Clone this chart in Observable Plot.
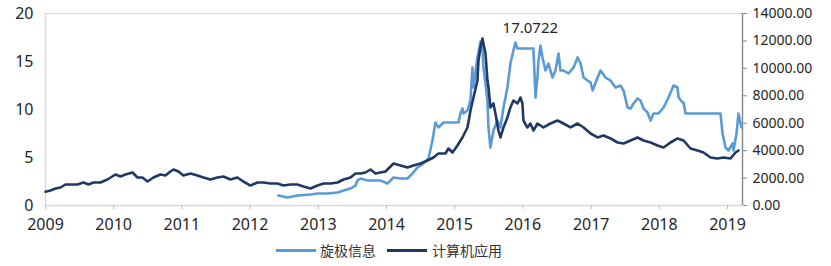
<!DOCTYPE html>
<html><head><meta charset="utf-8">
<script src="https://cdn.jsdelivr.net/npm/d3@7"></script>
<script src="https://cdn.jsdelivr.net/npm/@observablehq/plot@0.6"></script>
<style>
body{margin:0;background:#fff;font-family:"Noto Sans","Noto Sans CJK SC",sans-serif;}
#wrap{position:relative;width:831px;height:266px;}
#chart{position:absolute;top:0;left:0;}
#legend{position:absolute;top:240px;left:0;height:20px;line-height:20px;font-size:14px;color:#333;font-family:"Noto Sans CJK SC","Noto Sans",sans-serif;}
.item{position:absolute;top:0;white-space:nowrap;}
.sw{position:absolute;top:9px;height:3px;}
</style></head><body>
<div id="wrap"><div id="chart"></div><div id="legend"></div></div>
<script>
// 旋极信息 (left axis)
const xjYears = [2012.416,2012.548,2012.695,2012.886,2012.988,2013.135,2013.282,2013.370,2013.472,2013.545,2013.575,2013.619,2013.721,2013.868,2013.912,2014.015,2014.103,2014.205,2014.308,2014.381,2014.455,2014.543,2014.616,2014.674,2014.718,2014.762,2014.836,2014.982,2015.056,2015.085,2015.114,2015.129,2015.188,2015.232,2015.261,2015.276,2015.334,2015.378,2015.408,2015.422,2015.452,2015.481,2015.496,2015.525,2015.569,2015.628,2015.672,2015.716,2015.774,2015.818,2015.862,2015.892,2015.921,2016.155,2016.185,2016.214,2016.229,2016.258,2016.287,2016.331,2016.375,2016.434,2016.478,2016.522,2016.551,2016.595,2016.669,2016.742,2016.801,2016.845,2016.889,2016.947,2016.991,2017.021,2017.094,2017.138,2017.211,2017.284,2017.358,2017.431,2017.475,2017.534,2017.578,2017.622,2017.680,2017.724,2017.768,2017.827,2017.871,2017.915,2017.988,2018.062,2018.135,2018.208,2018.267,2018.282,2018.340,2018.355,2018.384,2018.897,2018.927,2018.971,2019.015,2019.073,2019.088,2019.132,2019.161,2019.205];
const xjValues = [1.04,0.83,1.04,1.15,1.25,1.25,1.35,1.56,1.77,2.08,2.60,2.81,2.60,2.60,2.60,2.29,2.92,2.81,2.81,3.33,3.96,4.38,4.90,6.77,8.65,8.13,8.65,8.65,8.65,9.58,10.10,9.58,9.90,10.94,14.38,12.29,15.42,17.07,16.15,14.38,12.71,10.94,8.13,6.04,7.81,8.85,8.13,10.21,12.29,14.79,16.15,16.98,16.35,16.35,11.25,13.33,15.10,16.67,15.42,14.06,14.79,13.33,14.06,15.83,14.06,14.06,13.75,14.38,15.42,14.79,13.33,13.02,12.81,11.98,13.33,14.06,13.33,13.02,12.29,12.50,11.98,10.21,10.10,10.63,11.15,10.94,10.10,9.69,8.85,9.58,9.58,10.21,11.25,12.50,12.29,11.25,10.73,10.73,9.58,9.58,7.50,6.04,5.73,6.46,5.73,7.50,9.58,8.13];
// 计算机应用 (right axis)
const jsjYears = [2009.000,2009.073,2009.147,2009.220,2009.293,2009.367,2009.469,2009.557,2009.630,2009.704,2009.806,2009.909,2010.026,2010.100,2010.173,2010.276,2010.349,2010.422,2010.496,2010.584,2010.686,2010.760,2010.833,2010.877,2010.950,2011.023,2011.126,2011.229,2011.317,2011.419,2011.522,2011.610,2011.713,2011.815,2011.903,2012.006,2012.109,2012.196,2012.299,2012.402,2012.490,2012.592,2012.695,2012.783,2012.886,2012.988,2013.076,2013.179,2013.282,2013.370,2013.472,2013.545,2013.619,2013.692,2013.765,2013.839,2013.912,2013.985,2014.059,2014.103,2014.205,2014.308,2014.396,2014.499,2014.601,2014.689,2014.762,2014.865,2014.909,2014.968,2015.041,2015.114,2015.188,2015.232,2015.276,2015.334,2015.349,2015.378,2015.408,2015.422,2015.452,2015.481,2015.496,2015.525,2015.569,2015.598,2015.642,2015.672,2015.716,2015.774,2015.818,2015.862,2015.921,2015.965,2015.994,2016.009,2016.067,2016.111,2016.155,2016.214,2016.302,2016.405,2016.507,2016.595,2016.698,2016.801,2016.889,2016.991,2017.094,2017.182,2017.284,2017.387,2017.475,2017.578,2017.680,2017.768,2017.871,2017.974,2018.062,2018.164,2018.267,2018.355,2018.457,2018.560,2018.648,2018.751,2018.853,2018.941,2019.044,2019.117,2019.161];
const jsjValues = [1000,1094,1240,1313,1531,1531,1531,1677,1531,1677,1677,1896,2261,2115,2261,2406,2042,2042,1750,2042,2261,2188,2479,2625,2479,2188,2333,2188,2042,1896,2042,2115,1896,2042,1750,1458,1677,1677,1604,1604,1458,1531,1531,1385,1240,1458,1604,1604,1677,1896,2042,2333,2333,2406,2625,2333,2406,2479,2844,3063,2917,2771,2917,3063,3281,3500,3792,3792,4156,3865,4375,4959,5688,6927,7875,9115,10573,11521,12178,11813,11084,9115,8604,7146,7438,6709,5469,4959,5688,6417,7146,7656,7438,7875,7438,6198,5688,5979,5469,5979,5688,5979,6198,5979,5688,5979,5688,5250,4959,5104,4886,4594,4521,4740,4959,4740,4594,4375,4229,4594,4886,4740,4156,4011,3865,3500,3427,3500,3427,3865,4011];
const seriesNames = ["旋极信息","计算机应用"];
const seriesColors = ["#5b9bd5","#1f3864"];
const leftTicks = [0,5,10,15,20];
const rightTicks = [0,2000,4000,6000,8000,10000,12000,14000];
const yearTicks = [2009,2010,2011,2012,2013,2014,2015,2016,2017,2018,2019];
const xStart = 2009.0, xEnd = 2019.22;
const peakLabel = {year: 2016.11, value: 17.0722, text: "17.0722"};

function toDate(y){const yr=Math.floor(y);const s=Date.UTC(yr,0,1),e=Date.UTC(yr+1,0,1);return new Date(s+(y-yr)*(e-s));}
const ratio = rightTicks[rightTicks.length-1]/leftTicks[leftTicks.length-1];
const xj = xjYears.map((y,i)=>({date:toDate(y),value:xjValues[i]}));
const jsj = jsjYears.map((y,i)=>({date:toDate(y),value:jsjValues[i]/ratio}));
const textColor = "#262626";

const chart = Plot.plot({
  width: 831, height: 236,
  marginLeft: 45, marginRight: 89, marginTop: 13, marginBottom: 31,
  style: {fontFamily: '"Noto Sans","Open Sans",sans-serif', color: textColor, background: "#fff"},
  x: {type: "utc", domain: [toDate(xStart), toDate(xEnd)]},
  y: {domain: [0, 20]},
  marks: [
    Plot.ruleY([20], {stroke: "#d9d9d9", strokeWidth: 1}),
    Plot.ruleX([toDate(xStart)], {stroke: "#d9d9d9", strokeWidth: 1.5}),
    Plot.ruleY([0], {stroke: "#d9d9d9", strokeWidth: 1.5}),
    Plot.ruleX([toDate(xEnd)], {stroke: "#8c8c8c", strokeWidth: 1.5}),
    Plot.axisX(yearTicks.map(toDate), {label: null, tickSize: 4, tickPadding: 9, tickFormat: "%Y", fontSize: 16, stroke: "#bfbfbf"}),
    Plot.axisY(leftTicks, {label: null, anchor: "left", tickSize: 0, tickPadding: 12, fontSize: 16}),
    Plot.axisY(rightTicks.map(v => v/ratio), {label: null, anchor: "right", tickSize: 4, tickPadding: 6, fontSize: 14, stroke: "#8c8c8c", tickFormat: d => (d*ratio).toFixed(2)}),
    Plot.line(xj, {x: "date", y: "value", stroke: seriesColors[0], strokeWidth: 2.6, curve: "linear"}),
    Plot.line(jsj, {x: "date", y: "value", stroke: seriesColors[1], strokeWidth: 2.6, curve: "linear"}),
    Plot.text([peakLabel], {x: d => toDate(d.year), y: "value", text: "text", dy: -13, fontSize: 15, fill: textColor})
  ]
});
document.getElementById("chart").appendChild(chart);

const legend = document.getElementById("legend");
const pos = [[276, 40, 320], [387, 40, 432]];
seriesNames.forEach((name, i) => {
  const sw = document.createElement("div");
  sw.className = "sw";
  sw.style.left = pos[i][0] + "px";
  sw.style.width = pos[i][1] + "px";
  sw.style.background = seriesColors[i];
  legend.appendChild(sw);
  const t = document.createElement("div");
  t.className = "item";
  t.style.left = pos[i][2] + "px";
  t.textContent = name;
  legend.appendChild(t);
});
</script>
</body></html>
